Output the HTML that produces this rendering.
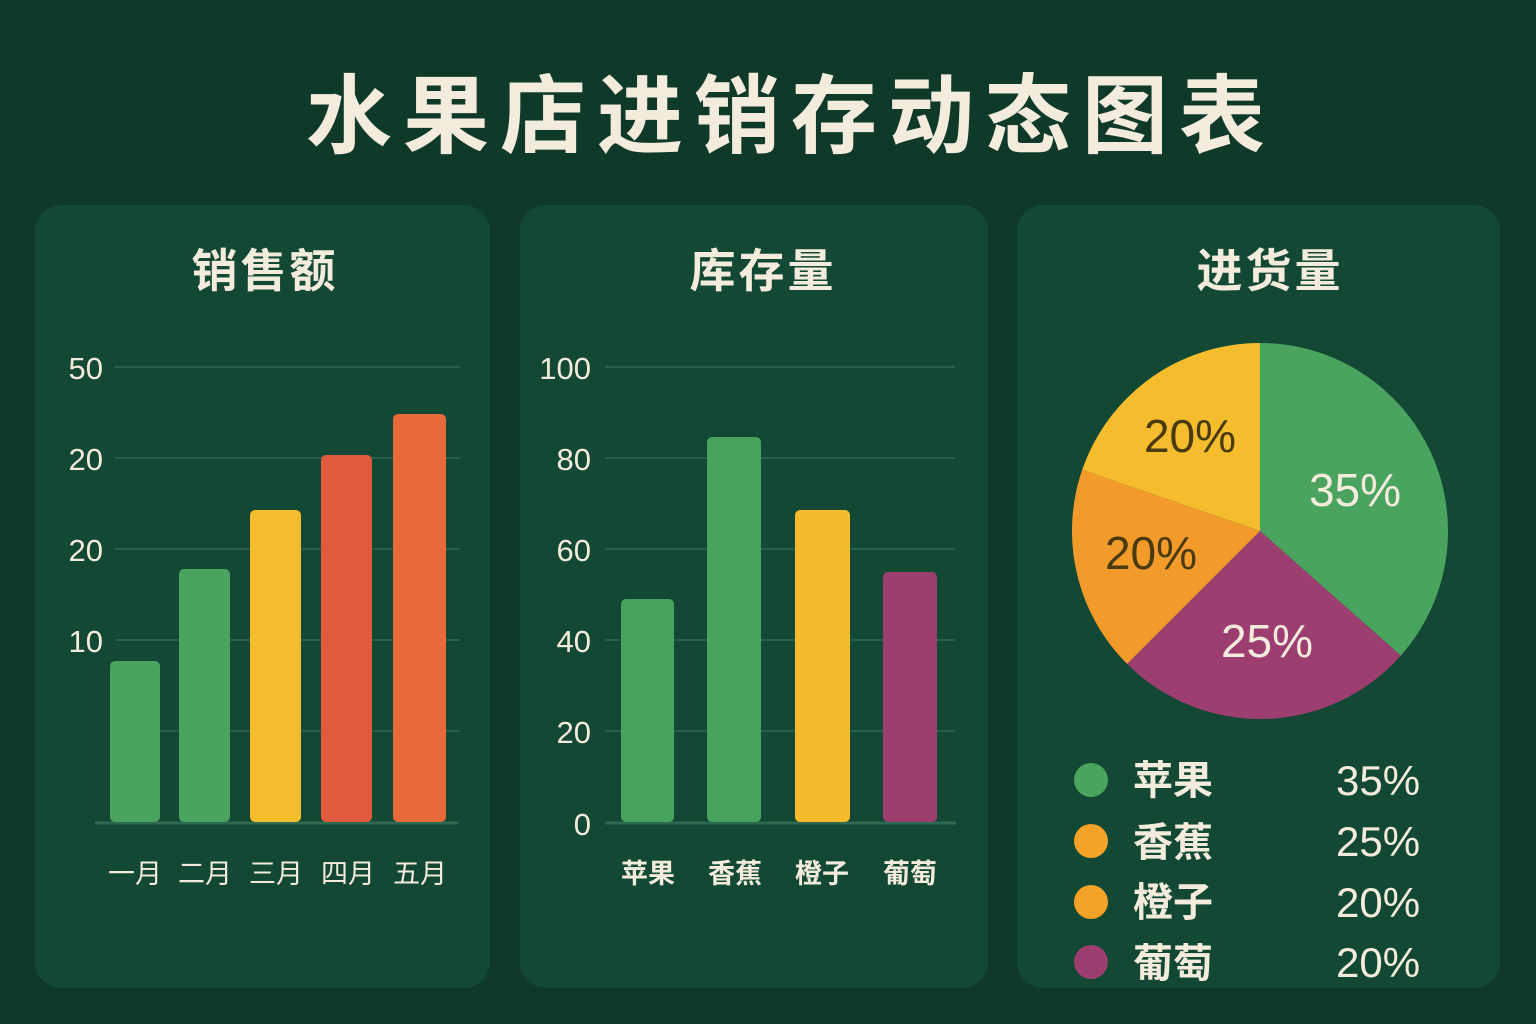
<!DOCTYPE html>
<html><head><meta charset="utf-8"><style>
html,body{margin:0;padding:0;background:#0f3a2a;}
svg{display:block}
text{font-family:"Liberation Sans","Noto Sans CJK SC",sans-serif;fill:#f3ebdc}
text.dk{fill:#4a3a10}
</style></head><body>
<svg width="1536" height="1024" viewBox="0 0 1536 1024" xmlns="http://www.w3.org/2000/svg">
<rect width="1536" height="1024" fill="#0f3a2a"/>
<text x="791" y="146" text-anchor="middle" font-size="86" font-weight="bold" letter-spacing="11">水果店进销存动态图表</text>
<rect x="35" y="205" width="455" height="783" rx="26" fill="#124834"/>
<rect x="520" y="205" width="468" height="783" rx="26" fill="#124834"/>
<rect x="1017" y="205" width="483" height="783" rx="26" fill="#124834"/>
<g font-size="46" font-weight="bold" text-anchor="middle" letter-spacing="3">
<text x="265" y="287">销售额</text>
<text x="763" y="287">库存量</text>
<text x="1270" y="287">进货量</text>
</g>
<g stroke="#25604a" stroke-width="2">
<line x1="115" y1="367" x2="460" y2="367"/><line x1="115" y1="458" x2="460" y2="458"/>
<line x1="115" y1="549" x2="460" y2="549"/><line x1="115" y1="640" x2="460" y2="640"/>
<line x1="115" y1="731" x2="460" y2="731"/>
<line x1="605" y1="367" x2="955" y2="367"/><line x1="605" y1="458" x2="955" y2="458"/>
<line x1="605" y1="549" x2="955" y2="549"/><line x1="605" y1="640" x2="955" y2="640"/>
<line x1="605" y1="731" x2="955" y2="731"/>
</g>
<line x1="95" y1="823" x2="458" y2="823" stroke="#2e6a52" stroke-width="3"/>
<line x1="605" y1="823" x2="956" y2="823" stroke="#2e6a52" stroke-width="3"/>
<g font-size="31" text-anchor="end">
<text x="103" y="379">50</text><text x="103" y="470">20</text><text x="103" y="561">20</text><text x="103" y="652">10</text>
<text x="591" y="379">100</text><text x="591" y="470">80</text><text x="591" y="561">60</text><text x="591" y="652">40</text><text x="591" y="743">20</text><text x="591" y="835">0</text>
</g>
<rect x="110" y="661" width="50" height="161" rx="5" fill="#4aa35e"/>
<rect x="179" y="569" width="51" height="253" rx="5" fill="#4aa35e"/>
<rect x="250" y="510" width="51" height="312" rx="5" fill="#f5bd2e"/>
<rect x="321" y="455" width="51" height="367" rx="5" fill="#e05a3e"/>
<rect x="393" y="414" width="53" height="408" rx="5" fill="#e8693a"/>
<g font-size="27" text-anchor="middle">
<text x="135" y="883">一月</text><text x="205" y="883">二月</text><text x="276" y="883">三月</text><text x="348" y="883">四月</text><text x="420" y="883">五月</text>
</g>
<rect x="621" y="599" width="53" height="223" rx="5" fill="#48a35f"/>
<rect x="707" y="437" width="54" height="385" rx="5" fill="#48a35f"/>
<rect x="795" y="510" width="55" height="312" rx="5" fill="#f5bb2c"/>
<rect x="883" y="572" width="54" height="250" rx="5" fill="#9a3f6e"/>
<g font-size="27" text-anchor="middle" font-weight="bold">
<text x="648" y="883">苹果</text><text x="735" y="883">香蕉</text><text x="822" y="883">橙子</text><text x="910" y="883">葡萄</text>
</g>
<path d="M1260,531 L1260,343 A188,188 0 0 1 1400.8,655.6 Z" fill="#4aa35e"/>
<path d="M1260,531 L1400.8,655.6 A188,188 0 0 1 1127.1,663.9 Z" fill="#9c3e70"/>
<path d="M1260,531 L1127.1,663.9 A188,188 0 0 1 1082.2,469.8 Z" fill="#f29a2a"/>
<path d="M1260,531 L1082.2,469.8 A188,188 0 0 1 1260,343 Z" fill="#f5bd2e"/>
<g font-size="46" text-anchor="middle">
<text x="1355" y="506">35%</text>
<text x="1267" y="657">25%</text>
<text x="1190" y="452" class="dk">20%</text>
<text x="1151" y="569" class="dk">20%</text>
</g>
<circle cx="1091" cy="780" r="17" fill="#4aa35e"/>
<circle cx="1091" cy="841" r="17" fill="#f5a228"/>
<circle cx="1091" cy="902" r="17" fill="#f5a228"/>
<circle cx="1091" cy="962" r="17" fill="#9c3e70"/>
<g font-size="40" font-weight="bold">
<text x="1133" y="794">苹果</text><text x="1133" y="856">香蕉</text><text x="1133" y="916">橙子</text><text x="1133" y="977">葡萄</text>
</g>
<g font-size="42">
<text x="1336" y="795">35%</text><text x="1336" y="856">25%</text><text x="1336" y="917">20%</text><text x="1336" y="977">20%</text>
</g>
</svg>
</body></html>
